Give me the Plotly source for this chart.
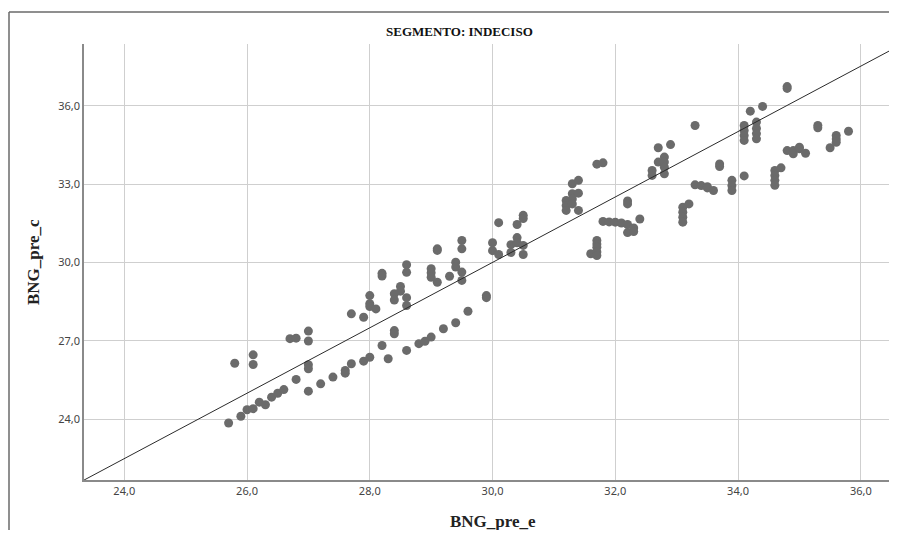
import plotly.graph_objects as go

# ---------------- data ----------------
bng_pre_e = [
    25.7, 25.8, 25.9, 26.0, 26.1, 26.1, 26.1, 26.2, 26.3, 26.4, 26.5, 26.6, 26.7,
    26.8, 26.8, 27.0, 27.0, 27.0, 27.0, 27.0, 27.2, 27.4, 27.6, 27.6, 27.7, 27.7,
    27.9, 27.9, 28.0, 28.0, 28.0, 28.0, 28.1, 28.2, 28.2, 28.2, 28.3,
    28.4, 28.4, 28.4, 28.4, 28.5, 28.5, 28.6, 28.6, 28.6, 28.6, 28.6,
    28.8, 28.9, 29.0, 29.0, 29.0, 29.0, 29.1, 29.1, 29.1, 29.2, 29.3,
    29.4, 29.4, 29.4, 29.5, 29.5, 29.5, 29.5, 29.6, 29.9, 29.9,
    30.0, 30.0, 30.1, 30.1, 30.3, 30.3, 30.4, 30.4, 30.4, 30.5, 30.5, 30.5, 30.5,
    31.2, 31.2, 31.2, 31.3, 31.3, 31.3, 31.3, 31.4, 31.4, 31.4, 31.6,
    31.7, 31.7, 31.7, 31.7, 31.7, 31.7, 31.8, 31.8, 31.9, 32.0, 32.1,
    32.2, 32.2, 32.2, 32.2, 32.3, 32.3, 32.4, 32.6, 32.6, 32.7, 32.7,
    32.8, 32.8, 32.8, 32.8, 32.9, 33.1, 33.1, 33.1, 33.1, 33.2, 33.3, 33.3,
    33.4, 33.5, 33.5, 33.6, 33.7, 33.7, 33.9, 33.9, 33.9,
    34.1, 34.1, 34.1, 34.1, 34.1, 34.2, 34.3, 34.3, 34.3, 34.3, 34.4,
    34.6, 34.6, 34.6, 34.6, 34.7, 34.8, 34.8, 34.8, 34.9, 34.9, 35.0, 35.0,
    35.1, 35.3, 35.3, 35.5, 35.6, 35.6, 35.6, 35.8,
]
bng_pre_c = [
    23.85, 26.14, 24.11, 24.36, 24.40, 26.46, 26.09, 24.65, 24.55, 24.84, 24.99, 25.13, 27.08,
    25.52, 27.10, 25.07, 27.37, 26.99, 26.08, 25.93, 25.35, 25.61, 25.86, 25.76, 26.12, 28.03,
    26.22, 27.90, 26.37, 28.73, 28.42, 28.31, 28.22, 26.82, 29.58, 29.48, 26.31,
    27.39, 27.27, 28.80, 28.56, 29.08, 28.90, 26.63, 28.65, 28.35, 29.91, 29.62,
    26.89, 26.98, 27.14, 29.76, 29.60, 29.43, 30.52, 30.46, 29.24, 27.46, 29.47,
    27.69, 30.01, 29.82, 30.84, 30.52, 29.63, 29.31, 28.13, 28.73, 28.65,
    30.75, 30.45, 31.52, 30.30, 30.68, 30.38, 31.45, 30.95, 30.75, 31.80, 31.68, 30.65, 30.30,
    32.37, 32.18, 31.99, 33.01, 32.63, 32.43, 32.24, 33.14, 32.65, 31.99, 30.33,
    33.76, 30.84, 30.70, 30.58, 30.40, 30.26, 33.81, 31.57, 31.55, 31.54, 31.51,
    32.35, 32.24, 31.45, 31.14, 31.32, 31.18, 31.66, 33.52, 33.33, 34.39, 33.84,
    34.03, 33.84, 33.64, 33.39, 34.51, 32.11, 31.92, 31.73, 31.54, 32.24, 35.24, 32.97,
    32.94, 32.90, 32.85, 32.75, 33.77, 33.67, 33.14, 32.94, 32.75,
    35.24, 35.05, 34.86, 34.67, 33.31, 35.79, 35.37, 35.13, 34.93, 34.73, 35.97,
    33.52, 33.33, 33.14, 32.95, 33.62, 36.73, 36.66, 34.28, 34.28, 34.16, 34.35, 34.41,
    34.18, 35.24, 35.15, 34.39, 34.86, 34.72, 34.60, 35.02,
]

# fit line (intercept, slope)
fit_intercept = -7.56
fit_slope = 1.252

x_ticks = [24, 26, 28, 30, 32, 34, 36]
x_tick_labels = ["24,0", "26,0", "28,0", "30,0", "32,0", "34,0", "36,0"]
y_ticks = [24, 27, 30, 33, 36]
y_tick_labels = ["24,0", "27,0", "30,0", "33,0", "36,0"]

title_text = "SEGMENTO: INDECISO"
x_title = "BNG_pre_e"
y_title = "BNG_pre_c"

# ---------------- figure ----------------
x_range = [23.344, 36.59]
y_range = [21.67, 38.36]

# the page body has an 8px default margin; compensate so the plot sits where it
# should and keep the page from overflowing vertically (which adds a scrollbar)
OFF = 8
W, H = 897 - OFF, 538 - 2 * OFF
ml, mr, mt = 84 - OFF, 0, 44 - OFF
ph = 436
mb = H - mt - ph
pw = W - ml - mr

def px_x(px):
    # page pixel -> paper coordinate
    return (px - OFF - ml) / pw

def px_y(py):
    return (OFF + mt + ph - py) / ph

fig = go.Figure()

fig.add_trace(go.Scatter(
    x=bng_pre_e, y=bng_pre_c, mode="markers",
    marker=dict(size=9, color="#6b6b6b", line=dict(width=0)),
    showlegend=False, hoverinfo="x+y",
))

fit_x = [x_range[0], x_range[1]]
fit_y = [fit_intercept + fit_slope * v for v in fit_x]
fig.add_trace(go.Scatter(
    x=fit_x, y=fit_y, mode="lines",
    line=dict(color="#2b2b2b", width=1),
    showlegend=False, hoverinfo="skip",
))

tick_font = dict(family="Noto Sans, DejaVu Sans, sans-serif", size=11, color="#444444")
serif_bold = "Liberation Serif, Times New Roman, serif"

fig.update_xaxes(
    range=x_range, tickvals=x_ticks, ticktext=x_tick_labels,
    showgrid=True, gridcolor="#cfcfcf", gridwidth=1,
    zeroline=False, showline=True, linecolor="#8a8a8a", linewidth=1.5,
    ticks="", tickfont=tick_font, fixedrange=True,
)
fig.update_yaxes(
    range=y_range, tickvals=y_ticks, ticktext=y_tick_labels,
    showgrid=True, gridcolor="#cfcfcf", gridwidth=1,
    zeroline=False, showline=True, linecolor="#8a8a8a", linewidth=1.5,
    ticks="", tickfont=tick_font, fixedrange=True,
)

annotations = [
    dict(text="<b>" + title_text + "</b>", x=px_x(459), y=px_y(31),
         xref="paper", yref="paper", showarrow=False, xanchor="center", yanchor="middle",
         font=dict(family=serif_bold, size=13, color="#111111")),
    dict(text="<b>" + x_title + "</b>", x=px_x(493), y=px_y(521),
         xref="paper", yref="paper", showarrow=False, xanchor="center", yanchor="middle",
         font=dict(family=serif_bold, size=17, color="#222222")),
    dict(text="<b>" + y_title + "</b>", x=px_x(33), y=px_y(262), textangle=-90,
         xref="paper", yref="paper", showarrow=False, xanchor="center", yanchor="middle",
         font=dict(family=serif_bold, size=17, color="#222222")),
]

shapes = [
    dict(type="line", xref="paper", yref="paper", x0=px_x(9), x1=px_x(9),
         y0=px_y(12), y1=px_y(545), line=dict(color="#6a6a6a", width=1.5)),
    dict(type="line", xref="paper", yref="paper", x0=px_x(9), x1=px_x(905),
         y0=px_y(12), y1=px_y(12), line=dict(color="#6a6a6a", width=1.5)),
]

fig.update_layout(
    width=W, height=H,
    margin=dict(l=ml, r=mr, t=mt, b=mb, pad=0),
    paper_bgcolor="white", plot_bgcolor="white",
    annotations=annotations, shapes=shapes,
    showlegend=False,
)

fig.write_html("out.html")
